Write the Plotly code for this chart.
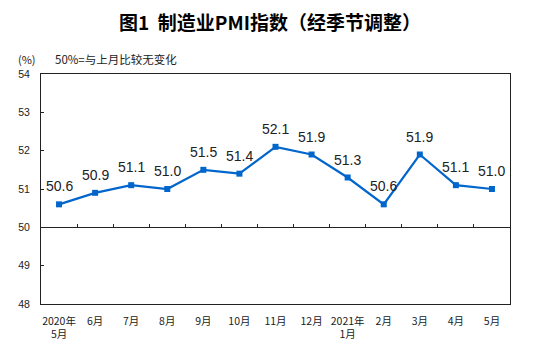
import plotly.graph_objects as go

categories = ["2020年<br>5月", "6月", "7月", "8月", "9月", "10月", "11月", "12月",
              "2021年<br>1月", "2月", "3月", "4月", "5月"]
pmi_values = [50.6, 50.9, 51.1, 51.0, 51.5, 51.4, 52.1, 51.9, 51.3, 50.6, 51.9, 51.1, 51.0]
y_ticks = [48, 49, 50, 51, 52, 53, 54]

W, H = 536, 345
L, R, T, B = 41, 26, 74, 41
PW, PH = W - L - R, H - T - B

def px_x(px):
    return (px - L) / PW

def px_y(py):
    return 1 - (py - T) / PH

LINE = "#0066CC"
FRAME = "#222222"
CJK = "Noto Sans CJK SC"
NUM = "Liberation Sans, Arial"

fig = go.Figure()
fig.add_trace(go.Scatter(
    x=categories, y=pmi_values, mode="lines+markers",
    line=dict(color=LINE, width=2.2),
    marker=dict(symbol="square", size=6, color=LINE),
    showlegend=False, hoverinfo="skip", xaxis="x", yaxis="y",
))
# helper trace so the 50-line axis gets category ticks
fig.add_trace(go.Scatter(
    x=categories, y=pmi_values, mode="markers",
    marker=dict(opacity=0), showlegend=False, hoverinfo="skip",
    xaxis="x2", yaxis="y",
))

for c, v in zip(categories, pmi_values):
    fig.add_annotation(
        x=c, y=v, xref="x", yref="y", text=f"{v:.1f}", showarrow=False,
        yshift=18, font=dict(family=NUM, size=14, color="#222222"),
    )

fig.add_annotation(
    x=px_x(270), y=px_y(22), xref="paper", yref="paper",
    text="<b>图1  制造业PMI指数（经季节调整）</b>", showarrow=False,
    xanchor="center", yanchor="middle",
    font=dict(family=CJK, size=19, color="#000000"),
)
fig.add_annotation(
    x=px_x(16), y=px_y(58.5), xref="paper", yref="paper",
    text="(%)", showarrow=False, xanchor="left", yanchor="middle",
    font=dict(family=CJK, size=11, color="#222222"),
)
fig.add_annotation(
    x=px_x(53), y=px_y(58.5), xref="paper", yref="paper",
    text="50%=与上月比较无变化", showarrow=False, xanchor="left", yanchor="middle",
    font=dict(family=CJK, size=11.5, color="#222222"),
)

n = len(categories)
fig.update_layout(
    width=W, height=H,
    margin=dict(l=L, r=R, t=T, b=B, pad=0),
    paper_bgcolor="white", plot_bgcolor="white",
    xaxis=dict(
        type="category", range=[-0.5, n - 0.5], showline=True, mirror=True,
        linecolor=FRAME, linewidth=1, ticks="", showgrid=False, zeroline=False,
        ticklabelstandoff=7, automargin=False,
        tickfont=dict(family=CJK, size=10.5, color="#222222"),
    ),
    xaxis2=dict(
        type="category", range=[-0.5, n - 0.5], overlaying="x", anchor="free",
        position=(50 - 48) / (54 - 48), automargin=False,
        showline=True, linecolor=FRAME, linewidth=1, ticks="inside",
        tickson="boundaries", ticklen=3, tickcolor=FRAME,
        showticklabels=False, showgrid=False, zeroline=False,
    ),
    yaxis=dict(
        range=[48, 54], tickvals=y_ticks, showline=True, mirror=True,
        linecolor=FRAME, linewidth=1, ticks="inside", ticklen=3, tickcolor=FRAME,
        showgrid=False, zeroline=False, ticklabelstandoff=8, automargin=False,
        tickfont=dict(family=NUM, size=10.5, color="#222222"),
    ),
)

fig.write_html("out.html")
